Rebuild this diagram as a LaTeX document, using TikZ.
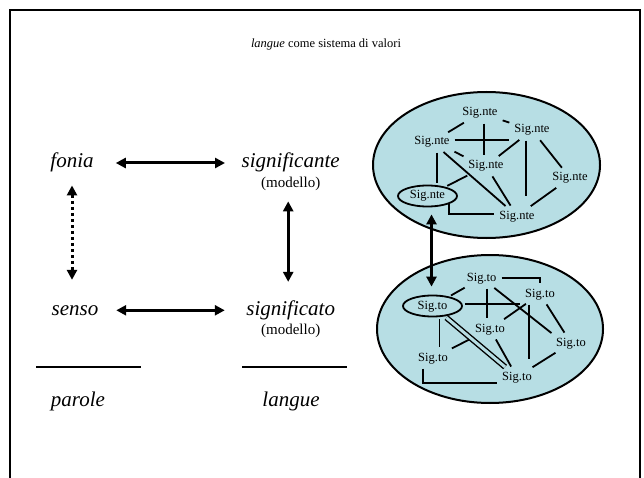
\documentclass[tikz,border=0pt]{standalone}
\usepackage{fontspec}
\setmainfont{Liberation Serif}
\usetikzlibrary{positioning,shapes.geometric,arrows.meta}
\definecolor{sysblue}{RGB}{183,222,228}

\begin{document}
\begin{tikzpicture}[x=1pt,y=-1pt,
        term/.style={font=\itshape\fontsize{21}{25}\selectfont,text height=14pt,text depth=4.5pt,inner sep=0pt},
        model/.style={font=\fontsize{15}{18}\selectfont,text height=10.5pt,text depth=3.5pt,inner sep=0pt},
        sig/.style={font=\fontsize{12.5}{15}\selectfont,text height=8.5pt,text depth=2.5pt,inner sep=3pt},
        ring/.style={sig,ellipse,draw,line width=1.8pt,inner sep=0pt,minimum width=59pt,minimum height=21pt},
        sys/.style={ellipse,draw,line width=2pt,fill=sysblue,inner sep=0pt},
        rel/.style={line width=3pt,{Triangle[length=10pt,width=10pt]}-{Triangle[length=10pt,width=10pt]}},
        link/.style={line width=1.8pt,shorten <=2pt,shorten >=2pt}]

        \useasboundingbox (0,0) rectangle (644,478);
        \draw[line width=2.2pt] (10,478) -- (10,10) -- (640,10) -- (640,478);

        % Title
        \node[font=\fontsize{12.5}{15}\selectfont] (title) at (326,44) {\textit{langue} come sistema di valori};

        % Define terms
        \node[term] (fonia) at (72,163) {fonia};
        \node[term] (signte) at (290.7,163) {significante};
        \node[model,below=4.5pt of signte] (modnte) {(modello)};
        \node[term] (senso) at (75,310.3) {senso};
        \node[term] (signto) at (290.7,310.3) {significato};
        \node[model,below=4.5pt of signto] (modto) {(modello)};
        \node[term] (parole) at (78,401.3) {parole};
        \node[term] (langue) at (291,401.3) {langue};
        \draw[line width=1.6pt] (36,367) -- (141,367);
        \draw[line width=1.6pt] (242,367) -- (347,367);

        % Draw relations
        \draw[rel,shorten <=22pt,shorten >=16.5pt] (fonia.east) -- (fonia.east -| signte.west);
        \draw[rel,shorten <=17.7pt,shorten >=21.4pt] (senso.east) -- (senso.east -| signto.west);
        \draw[rel,dash pattern=on 3pt off 3pt,shorten <=13pt,shorten >=21pt] (fonia.south) -- (fonia.south |- senso.north);
        \draw[rel,shorten <=10pt,shorten >=19pt] ([xshift=-2.5pt]modnte.south) -- ([xshift=-2.5pt]modnte.south |- signto.north);

        % Systems
        \node[sys,minimum width=227pt,minimum height=146pt] (ntesys) at (486.5,165) {};
        \node[sys,minimum width=226pt,minimum height=148pt] (tosys) at (490,329) {};

        % Define vertices (significanti)
        \node[sig] (nte1) at (480,113) {Sig.nte};
        \node[sig] (nte2) at (432,142) {Sig.nte};
        \node[sig] (nte3) at (532,130) {Sig.nte};
        \node[sig] (nte4) at (486,166) {Sig.nte};
        \node[sig] (nte5) at (570,178) {Sig.nte};
        \node[ring] (nte6) at (427.5,196) {Sig.nte};
        \node[sig] (nte7) at (517,216) {Sig.nte};

        % Define vertices (significati)
        \node[sig] (to1) at (481.7,278) {Sig.to};
        \node[ring] (to2) at (432.5,306) {Sig.to};
        \node[sig] (to3) at (540,294) {Sig.to};
        \node[sig] (to4) at (490,329) {Sig.to};
        \node[sig] (to5) at (571,343) {Sig.to};
        \node[sig] (to6) at (433,358) {Sig.to};
        \node[sig] (to7) at (517,377) {Sig.to};

        % Draw edges
        \path[link]
            (nte2) edge (nte1)
            (nte1) edge (nte3)
            (nte2.south east) edge (nte4.north west)
            (nte3) edge (nte4)
            (nte3) edge (nte5)
            (nte2) edge (nte7)
            (nte4) edge (nte6)
            (nte4) edge (nte7)
            (nte5) edge (nte7);
        \draw[link] ([yshift=2pt]nte2.east) -- ([yshift=2pt]nte2.east -| nte3.west);
        \draw[link] ([xshift=4pt]nte1.south) -- ([xshift=4pt]nte1.south |- nte4.north);
        \draw[link,shorten >=11pt] ([xshift=-6pt]nte3.south) -- ([xshift=-6pt]nte3.south |- nte7.north);
        \draw[link] ([xshift=5pt]nte2.south) -- ([xshift=5pt]nte2.south |- nte6.north);
        \draw[link,shorten <=0pt] (nte6.-20) |- ([yshift=2pt]nte7.west);

        \path[link]
            (to2) edge (to1)
            (to1) edge (to5.north west)
            (to3) edge (to4)
            (to3) edge (to5)
            (to4) edge (to6)
            (to4) edge (to7)
            (to5) edge (to7);
        \draw[link,double=sysblue,double distance=3pt,line width=1.4pt] (to2) -- (to7);
        \draw[link] (to1.east) -| (to3.north);
        \draw[link] ([xshift=5pt]to1.south) -- ([xshift=5pt]to1.south |- to4.north);
        \draw[link] ([yshift=2pt]to2.east) -- ([yshift=2pt]to2.east -| to3.west);
        \draw[link,shorten >=9pt] ([xshift=-11pt]to3.south) -- ([xshift=-11pt]to3.south |- to7.north);
        \draw[link] ([xshift=7pt]to2.south) -- ([xshift=7pt]to2.south |- to6.north);
        \draw[link] ([xshift=-10pt]to6.south) |- ([yshift=-6pt]to7.west);

        % Relation between systems
        \draw[rel,shorten <=7pt,shorten >=8pt] ([xshift=4pt]nte6.south) -- ([xshift=4pt]nte6.south |- to2.north);

\end{tikzpicture}
\end{document}
